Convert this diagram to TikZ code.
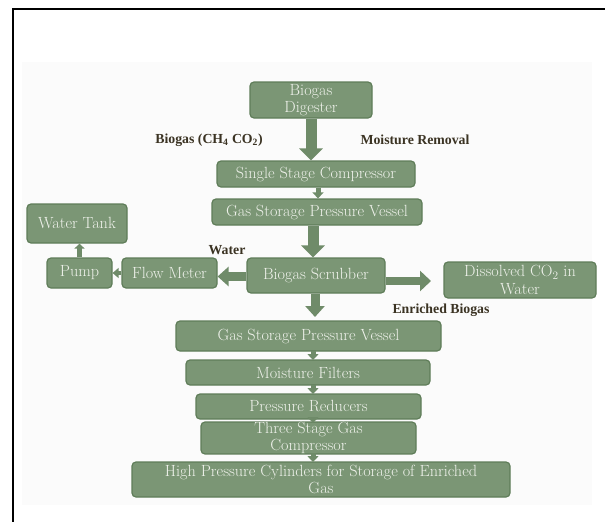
\documentclass[tikz,border=0pt]{standalone}
\usepackage{fontspec}
\usetikzlibrary{arrows.meta}
\newfontfamily\lblfont{Liberation Serif}
\definecolor{boxfill}{HTML}{7B9675}
\definecolor{boxline}{HTML}{5F7D59}
\definecolor{boxtext}{HTML}{EEF1EA}
\definecolor{arrowc}{HTML}{6F8B69}
\definecolor{lblc}{HTML}{3B3323}
\tikzset{
  box/.style={draw=boxline, fill=boxfill, rounded corners=4pt, line width=1.2pt,
    text=boxtext, font=\fontsize{16.2}{17.5}\selectfont, inner sep=0pt, align=center},
  lbl/.style={text=lblc, font=\lblfont\bfseries\fontsize{13.8}{15}\selectfont, inner sep=0pt},
  bigarr/.style={draw=arrowc, line width=11pt, -{Triangle[width=23pt,length=12pt]}},
  midarr/.style={draw=arrowc, line width=9pt, -{Triangle[width=19pt,length=11pt]}},
  smallarr/.style={draw=arrowc, line width=5pt, -{Triangle[width=11pt,length=6pt]}},
}
\begin{document}
\begin{tikzpicture}[x=1pt,y=-1pt]
\useasboundingbox (0,0) rectangle (605,522);
\fill[black!1.5] (22,62) rectangle (592,505);
\draw[line width=2pt] (13,522) -- (13,9) -- (605,9);

% boxes
\node[box, minimum width=122pt, minimum height=36pt] (dig) at (311,100) {Biogas\\Digester};
\node[box, minimum width=198pt, minimum height=26pt] (comp) at (316,174) {Single Stage Compressor};
\node[box, minimum width=210pt, minimum height=26pt] (ves1) at (317,212) {Gas Storage Pressure Vessel};
\node[box, minimum width=138pt, minimum height=35pt] (scr) at (316,275.5) {Biogas Scrubber};
\node[box, minimum width=95pt, minimum height=30pt] (flow) at (169.5,273) {Flow Meter};
\node[box, minimum width=65pt, minimum height=30pt] (pump) at (79.5,273) {Pump};
\node[box, minimum width=100pt, minimum height=39pt] (tank) at (77,223.5) {Water Tank};
\node[box, minimum width=152pt, minimum height=36pt] (diss) at (520,280) {Dissolved CO\textsubscript{2} in\\Water};
\node[box, minimum width=265pt, minimum height=30pt] (ves2) at (308.5,336) {Gas Storage Pressure Vessel};
\node[box, minimum width=244pt, minimum height=25pt] (mf) at (308,372.5) {Moisture Filters};
\node[box, minimum width=225pt, minimum height=25pt] (pr) at (308.5,406.5) {Pressure Reducers};
\node[box, minimum width=215pt, minimum height=30pt] (three) at (308.5,438) {Three Stage Gas\\Compressor};
\node[box, minimum width=378pt, minimum height=35pt] (high) at (321,479.5) {High Pressure Cylinders for Storage of Enriched\\Gas};

% labels
\node[lbl] (l1) at (209,140) {Biogas (CH\textsubscript{4} CO\textsubscript{2})};
\node[lbl] (l2) at (415,140) {Moisture Removal};
\node[lbl] (l3) at (227,250) {Water};
\node[lbl] (l4) at (441,310) {Enriched Biogas};

% connectors
\draw[bigarr] (dig.south) -- (dig.south |- comp.north);
\draw[smallarr] ([xshift=1pt]ves1.north |- comp.south) -- ([xshift=1pt]ves1.north);
\draw[bigarr] ([xshift=-4pt]ves1.south) -- ([xshift=-4pt]ves1.south |- scr.north);
\draw[midarr] (scr.west |- 0,276.5) -- (flow.east |- 0,276.5);
\coordinate (dtip) at (431,281);
\draw[draw=arrowc, line width=8pt, -{Triangle[width=20pt,length=11pt]}] (scr.east |- dtip) -- (dtip);
\draw[draw=arrowc, line width=4pt, -{Triangle[width=10pt,length=6pt]}] (flow.west) -- (pump.east);
\draw[draw=arrowc, line width=5pt, -{Triangle[width=10pt,length=5pt]}] (pump.north) -- (pump.north |- tank.south);
\coordinate (s2) at (315,317);
\draw[midarr] (scr.south -| s2) -- (s2);
\draw[smallarr] (313,351) -- (313,360);
\draw[smallarr] (313,385) -- (313,394);
\draw[smallarr] (313,419) -- (313,423);
\draw[smallarr] (313,453) -- (313,462);
\end{tikzpicture}
\end{document}
